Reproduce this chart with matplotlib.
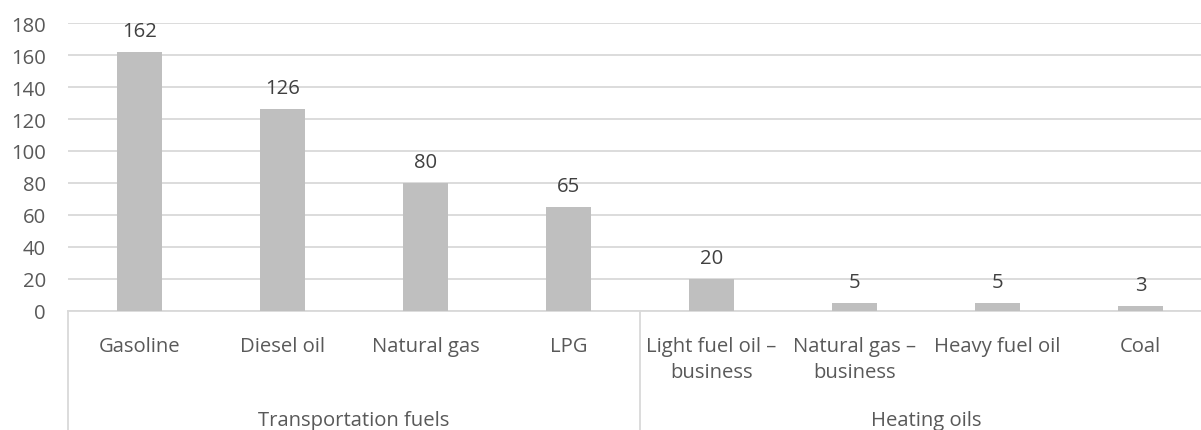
import matplotlib
matplotlib.use("Agg")
from matplotlib import pyplot as plt

# dados
categorias = ["Gasoline", "Diesel oil", "Natural gas", "LPG",
              "Light fuel oil –\nbusiness", "Natural gas –\nbusiness",
              "Heavy fuel oil", "Coal"]
valores = [162, 126, 80, 65, 20, 5, 5, 3]
grupos = ["Transportation fuels", "Heating oils"]
tam_grupos = [4, 4]

plt.rcParams['font.family'] = ['Open Sans', 'DejaVu Sans']
FS = 14.6

fig = plt.figure(figsize=(12.01, 4.31), dpi=100)
W, H = 1201, 431
x0, x1 = 68, 1212
y0, y1 = 312, 24  # pixel do 0 e do 180
ax = fig.add_axes([x0 / W, 1 - y0 / H, (x1 - x0) / W, (y0 - y1) / H])

pos = list(range(len(valores)))
ax.bar(pos, valores, width=0.32, color='#BFBFBF', zorder=3)
for p, v in zip(pos, valores):
    ax.annotate(str(v), xy=(p, v), xytext=(0, 16), textcoords='offset pixels',
                ha='center', va='baseline', fontsize=FS, color='#404040')

ax.set_xlim(-0.5, len(valores) - 0.5)
ax.set_ylim(0, 180)
ax.set_yticks(range(0, 181, 20))
ax.yaxis.grid(True, color='#D9D9D9', linewidth=1.3, zorder=0)
ax.tick_params(axis='y', length=0, labelsize=FS, labelcolor='#595959', pad=16)
ax.tick_params(axis='x', length=0)
ax.set_xticks([])
for s in ['top', 'right', 'left']:
    ax.spines[s].set_visible(False)
ax.spines['bottom'].set_color('#D9D9D9')
ax.spines['bottom'].set_linewidth(1.3)

# rótulos das categorias (uma linha de cada vez)
for p, c in zip(pos, categorias):
    for i, linha in enumerate(c.split('\n')):
        ax.annotate(linha, xy=(p, 0), xycoords='data',
                    xytext=(0, -(352 - y0) - 26 * i),
                    textcoords='offset pixels', ha='center', va='baseline',
                    fontsize=FS, color='#595959', annotation_clip=False)

# separadores e nomes dos grupos
inicio = -0.5
trans = ax.get_xaxis_transform()
for g, n in zip(grupos, tam_grupos):
    ax.plot([inicio, inicio], [0, -(H - y0) / (y0 - y1)], transform=trans,
            color='#D9D9D9', linewidth=1.3, clip_on=False)
    meio = inicio + n / 2
    ax.annotate(g, xy=(meio, 0), xycoords=trans, xytext=(0, -(426 - y0)),
                textcoords='offset pixels', ha='center', va='baseline',
                fontsize=FS, color='#595959', annotation_clip=False)
    inicio += n

fig.savefig('out.png', dpi=100)
